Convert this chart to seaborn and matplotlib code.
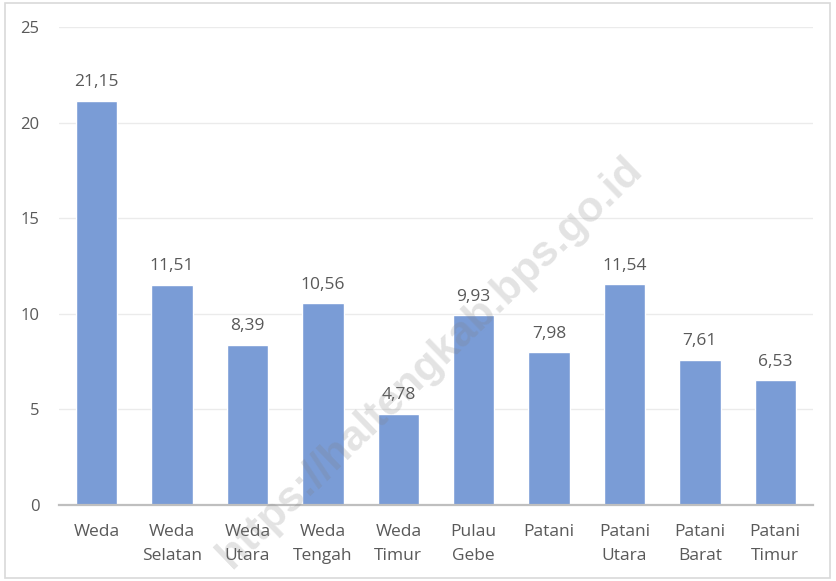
import matplotlib
matplotlib.use("Agg")
import matplotlib.pyplot as plt
import matplotlib.patches as mpatches
import pandas as pd
import seaborn as sns

# data
kecamatan = ["Weda\n", "Weda\nSelatan", "Weda\nUtara", "Weda\nTengah", "Weda\nTimur",
             "Pulau\nGebe", "Patani\n", "Patani\nUtara", "Patani\nBarat", "Patani\nTimur"]
nilai = [21.15, 11.51, 8.39, 10.56, 4.78, 9.93, 7.98, 11.54, 7.61, 6.53]
y_ticks = [0, 5, 10, 15, 20, 25]

BAR_COLOR = "#7A9CD6"
TEXT_COLOR = "#595959"

sns.set_style("white")
plt.rcParams["font.family"] = ["Open Sans", "DejaVu Sans"]

df = pd.DataFrame({"kecamatan": kecamatan, "nilai": nilai})

fig = plt.figure(figsize=(8.36, 5.81), dpi=100)
ax = fig.add_axes([0.0706, 0.1308, 0.9019, 0.8227])

sns.barplot(data=df, x="kecamatan", y="nilai", color=BAR_COLOR, width=0.55,
            saturation=1, ax=ax, zorder=2)

ax.set_ylim(0, 25)
ax.set_yticks(y_ticks)
ax.set_yticklabels([str(t) for t in y_ticks])
ax.set_xlim(-0.5, len(kecamatan) - 0.5)
ax.yaxis.grid(True, color="#EBEBEB", linewidth=1, zorder=0)
ax.set_axisbelow(True)
for s in ["top", "right", "left"]:
    ax.spines[s].set_visible(False)
ax.spines["bottom"].set_color("#BFBFBF")
ax.spines["bottom"].set_linewidth(1.6)
ax.set_xlabel("")
ax.set_ylabel("")
ax.tick_params(axis="both", length=0, colors=TEXT_COLOR)
ax.tick_params(axis="y", pad=14, labelsize=12)
ax.tick_params(axis="x", pad=14, labelsize=12.5)
for lbl in ax.get_xticklabels():
    lbl.set_linespacing(1.6)
    lbl.set_va("top")

# label nilai di atas batang
for i, v in enumerate(nilai):
    ax.text(i, v + 0.55, f"{v:.2f}".replace(".", ","), ha="center", va="bottom",
            fontsize=12.5, color=TEXT_COLOR)

# watermark
fig.text(0.515, 0.375, "https://haltengkab.bps.go.id", fontsize=31, fontweight="bold",
         family="Liberation Sans", color="#808080", alpha=0.22, rotation=44,
         ha="center", va="center", rotation_mode="anchor", zorder=10)

# bingkai
fig.patches.append(mpatches.Rectangle((0.006, 0.005), 0.987, 0.99, transform=fig.transFigure,
                                      fill=False, edgecolor="#D9D9D9", linewidth=1.2))

fig.savefig("out.png", dpi=100)
